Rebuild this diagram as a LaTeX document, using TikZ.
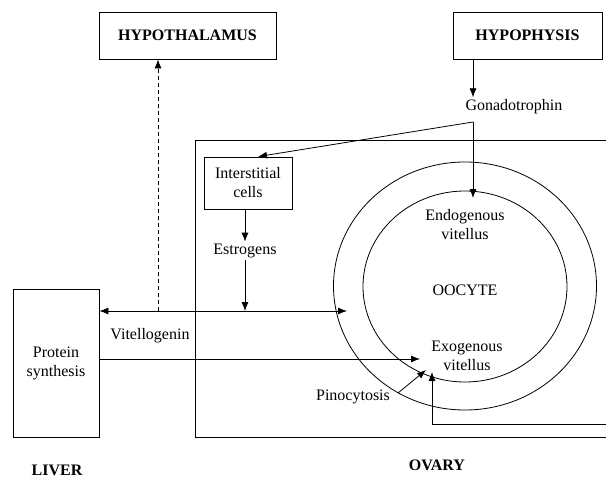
\documentclass[tikz,border=0pt]{standalone}
\usepackage{fontspec}
\setmainfont{Liberation Serif}
\usetikzlibrary{arrows.meta}
\tikzstyle{gland}=[rectangle,draw,line width=0.8pt,inner sep=0pt,
font=\fontsize{16}{19}\selectfont\bfseries,text=black]
\tikzstyle{cellbox}=[rectangle,draw,line width=0.8pt,inner sep=0pt,
font=\fontsize{16}{19}\selectfont,align=center,text=black]
\tikzstyle{word}=[inner sep=2pt,font=\fontsize{16}{19}\selectfont,align=center]
\tikzstyle{title}=[inner sep=2pt,font=\fontsize{16}{19}\selectfont\bfseries]
\tikzstyle{flow}=[->,>={Latex[length=9pt,width=7pt]},line width=0.8pt]

\begin{document}
\begin{tikzpicture}[x=1pt,y=-1pt,line width=0.8pt]
\useasboundingbox (0,0) rectangle (606,479);
\node[gland,minimum width=177,minimum height=47] (HT) at (187.5,35.5) {HYPOTHALAMUS};
\node[gland,minimum width=149,minimum height=47] (HP) at (527.5,35.5) {HYPOPHYSIS};
\node[word] (GN) at (514,107) {Gonadotrophin};
\node[cellbox,minimum width=88,minimum height=52] (IC) at (248,183) {Interstitial\\cells};
\node[word] (ES) at (245,251) {Estrogens};
\node[cellbox,minimum width=86,minimum height=148] (PS) at (56,363) {Protein\\synthesis};
\node[word] (VG) at (150,336) {Vitellogenin};
\node[word] (OC) at (465,290) {OOCYTE};
\node[word] (EN) at (465,224.5) {Endogenous\\vitellus};
\node[word] (EX) at (467,355.5) {Exogenous\\vitellus};
\node[word] (PC) at (353,397) {Pinocytosis};
\node[title] (LV) at (57,470) {LIVER};
\node[title] (OV) at (437,465) {OVARY};

% ovary and oocyte
\draw (606,140) -- (195,140) -- (195,437) -- (606,437);
\draw (465,286) ellipse [x radius=131.5,y radius=124];
\draw (465,286.5) ellipse [x radius=102,y radius=95.5];

\coordinate (J) at (473,122);
\coordinate (ENt) at (473,198);
\coordinate (VA) at (347,311);
\coordinate (DS) at (158,311);
\coordinate (EXt) at (420,359);
\coordinate (PCs) at (398,393);
\coordinate (PCt) at (426,370);
\coordinate (LPa) at (606,424);
\coordinate (LPt) at (432,372);

\draw[flow] (HP.south -| J) -- (J |- GN.north);
\draw[flow] (J) -- ([xshift=10pt]IC.north);
\draw[flow] (J) -- (ENt);
\draw[flow] (ES.north |- IC.south) -- (ES.north);
\draw[flow] (ES.south) -- (ES.south |- VA);
\draw[flow,<->] (PS.east |- VA) -- (VA);
\draw[flow,dash pattern=on 4pt off 3pt] (DS) -- (DS |- HT.south);
\draw[flow] (PS.east |- EXt) -- (EXt);
\draw[flow] (PCs) -- (PCt);
\draw[flow] (LPa) -| (LPt);
\end{tikzpicture}
\end{document}
